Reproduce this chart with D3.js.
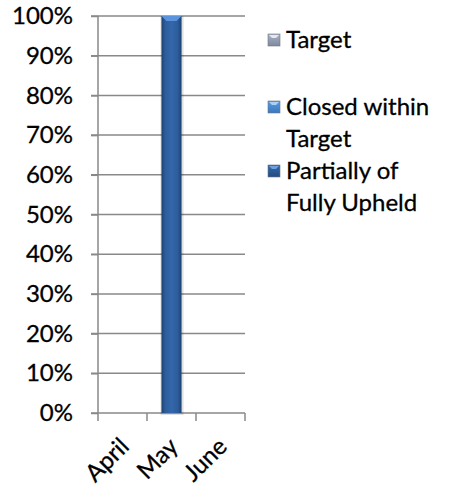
<!DOCTYPE html>
<html>
<head>
<meta charset="utf-8">
<script src="https://cdn.jsdelivr.net/npm/d3@7"></script>
<style>
  html, body { margin: 0; padding: 0; background: #fff; }
  svg { display: block; }
  text { font-family: Lato, "Open Sans", sans-serif; fill: #000; stroke: #000; stroke-width: 0.3px; }
</style>
</head>
<body>
<svg id="chart" width="450" height="487"></svg>
<script>
const categories = ["April", "May", "June"];
const seriesNames = ["Target", "Closed within Target", "Partially of Fully Upheld"];
const targetValues = [0, 0, 0];
const closedValues = [0, 0, 0];
const upheldValues = [0, 1, 0];
const yTicks = [0, 0.1, 0.2, 0.3, 0.4, 0.5, 0.6, 0.7, 0.8, 0.9, 1.0];
const legendLines = [["Target"], ["Closed within", "Target"], ["Partially of", "Fully Upheld"]];

const svg = d3.select("#chart");
const defs = svg.append("defs");

const x = d3.scaleBand().domain(categories).range([98, 245]).padding(0);
const y = d3.scaleLinear().domain([0, 1]).range([413, 16]);

function hGrad(id, stops) {
  const g = defs.append("linearGradient").attr("id", id).attr("x1", "0").attr("x2", "1").attr("y1", "0").attr("y2", "0");
  stops.forEach(s => g.append("stop").attr("offset", s[0]).attr("stop-color", s[1]));
}
function vGrad(id, stops) {
  const g = defs.append("linearGradient").attr("id", id).attr("x1", "0").attr("x2", "0").attr("y1", "0").attr("y2", "1");
  stops.forEach(s => g.append("stop").attr("offset", s[0]).attr("stop-color", s[1]));
}
hGrad("g0", [[0, "#7d8799"], [0.2, "#a3abbb"], [0.5, "#b3bbca"], [0.8, "#a3abbb"], [1, "#6f798b"]]);
hGrad("g1", [[0, "#2c6cb0"], [0.2, "#4a8ad0"], [0.5, "#5595d8"], [0.8, "#4a8ad0"], [1, "#2a66a8"]]);
hGrad("g2", [[0, "#1c416f"], [0.18, "#2c5c9b"], [0.5, "#3467aa"], [0.82, "#2c5c9b"], [1, "#1c416f"]]);
vGrad("s0", [[0, "#a9b1c3"], [1, "#7f889d"]]);
vGrad("s1", [[0, "#5a9be0"], [1, "#3a78bd"]]);
vGrad("s2", [[0, "#3468a8"], [1, "#224c84"]]);
const fills = ["url(#g0)", "url(#g1)", "url(#g2)"];
const topFills = ["#c8cfdb", "#7fb3ea", "#5b93dc"];
const swatchFills = ["url(#s0)", "url(#s1)", "url(#s2)"];
const swatchTop = ["#e4e8f0", "#a9d0f5", "#6c9fe0"];
const gridColor = "#898989";

// gridlines
svg.append("g").selectAll("line").data(yTicks.filter(d => d > 0)).join("line")
  .attr("x1", 91).attr("x2", 245)
  .attr("y1", d => y(d)).attr("y2", d => y(d))
  .attr("stroke", gridColor).attr("stroke-width", 1.5);

// y axis
const yAxis = d3.axisLeft(y).tickValues(yTicks).tickSize(7).tickPadding(25)
  .tickFormat(d => Math.round(d * 100) + "%");
const gy = svg.append("g").attr("transform", "translate(98,0)").call(yAxis);
gy.select(".domain").attr("stroke", gridColor).attr("stroke-width", 1.5).attr("d", "M0,16V413");
gy.selectAll(".tick line").attr("stroke", gridColor).attr("stroke-width", 1.5);
gy.selectAll(".tick text").attr("x", -25).style("font-size", "24px").style("font-family", "Lato, sans-serif").attr("fill", "#000");

// x axis
const gx = svg.append("g").attr("transform", "translate(0,413)");
gx.append("line").attr("x1", 91).attr("x2", 245).attr("y1", 0).attr("y2", 0)
  .attr("stroke", gridColor).attr("stroke-width", 1.5);
const boundaries = categories.map(c => x(c)).concat([x(categories[categories.length - 1]) + x.bandwidth()]);
gx.selectAll("line.tk").data(boundaries).join("line").attr("class", "tk")
  .attr("x1", d => d).attr("x2", d => d).attr("y1", 0).attr("y2", 8)
  .attr("stroke", gridColor).attr("stroke-width", 1.5);
gx.selectAll("text").data(categories).join("text")
  .attr("transform", d => `translate(${x(d) + x.bandwidth() / 2 + 2},${29}) rotate(-45)`)
  .attr("text-anchor", "end").attr("dy", "0.35em")
  .style("font-size", "24px")
  .text(d => d);

// stacked bars
const rows = categories.map((c, i) => ({ cat: c, s0: targetValues[i], s1: closedValues[i], s2: upheldValues[i] }));
const stack = d3.stack().keys(["s0", "s1", "s2"]);
const stacked = stack(rows);
const bw = x.bandwidth() * 0.41;
stacked.forEach((layer, li) => {
  const g = svg.append("g");
  const segs = layer.filter(d => d[1] - d[0] > 0);
  g.selectAll("rect.sh").data(segs).join("rect").attr("class", "sh")
    .attr("x", d => x(d.data.cat) + x.bandwidth() / 2 - bw / 2 - 1)
    .attr("y", d => y(d[1]))
    .attr("width", bw + 3).attr("height", d => y(d[0]) - y(d[1]) + 2)
    .attr("fill", "#000").attr("opacity", 0.12);
  g.selectAll("rect.b").data(segs).join("rect").attr("class", "b")
    .attr("x", d => x(d.data.cat) + x.bandwidth() / 2 - bw / 2)
    .attr("y", d => y(d[1]))
    .attr("width", bw).attr("height", d => y(d[0]) - y(d[1]))
    .attr("fill", fills[li]);
  g.selectAll("path.tp").data(segs).join("path").attr("class", "tp")
    .attr("d", d => {
      const x0 = x(d.data.cat) + x.bandwidth() / 2 - bw / 2, x1 = x0 + bw, yt = y(d[1]);
      return `M${x0},${yt}L${x1},${yt}L${x1 - 5},${yt + 5}L${x0 + 5},${yt + 5}Z`;
    })
    .attr("fill", topFills[li]);
});

// legend
const lg = svg.append("g");
const itemY = [40, 107, 171];
const lineH = 32;
const sw = 12, sx = 268;
legendLines.forEach((lines, i) => {
  const cy = itemY[i];
  lg.append("rect").attr("x", sx).attr("y", cy - sw / 2).attr("width", sw).attr("height", sw)
    .attr("fill", swatchFills[i]).attr("stroke", "#6f7684").attr("stroke-width", 0.6);
  lg.append("path")
    .attr("d", `M${sx + 1},${cy - sw / 2 + 1}L${sx + sw - 1},${cy - sw / 2 + 1}L${sx + sw - 4},${cy - sw / 2 + 4}L${sx + 4},${cy - sw / 2 + 4}Z`)
    .attr("fill", swatchTop[i]);
  lines.forEach((t, j) => {
    lg.append("text").attr("x", 286).attr("y", cy + j * lineH).attr("dy", "0.35em")
      .style("font-size", "24px").text(t);
  });
});
</script>
</body>
</html>
